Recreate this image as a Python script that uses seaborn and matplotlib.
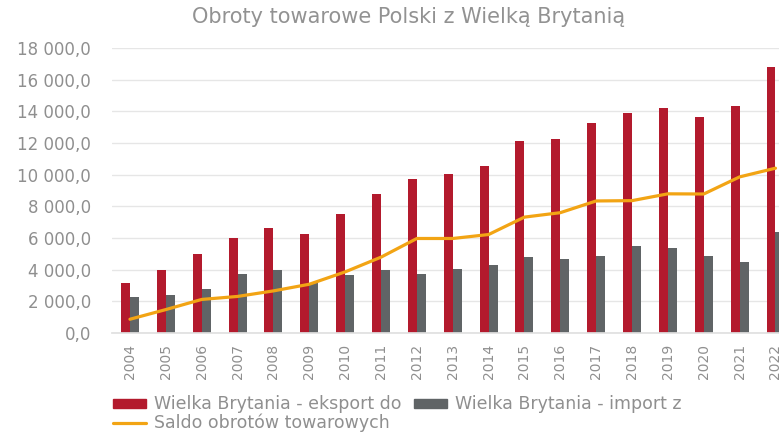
import pandas as pd
import matplotlib.pyplot as plt
import numpy as np
import seaborn as sns
from matplotlib.ticker import FuncFormatter
from matplotlib.patches import Patch
from matplotlib.lines import Line2D

years = [str(y) for y in range(2004, 2023)]
eksport = [3190, 3950, 4960, 6010, 6650, 6270, 7530, 8800, 9720, 10040,
           10540, 12110, 12280, 13250, 13880, 14190, 13670, 14340, 16780]
imports = [2300, 2430, 2810, 3700, 3990, 3150, 3650, 3990, 3730, 4070,
           4320, 4780, 4650, 4880, 5520, 5390, 4880, 4500, 6360]
saldo = [870, 1480, 2120, 2310, 2660, 3080, 3860, 4790, 5970, 5970,
         6220, 7320, 7600, 8340, 8360, 8790, 8780, 9860, 10410]

lab_exp = "Wielka Brytania - eksport do"
lab_imp = "Wielka Brytania - import z"
lab_sal = "Saldo obrotów towarowych"

c_exp = "#B31A2D"
c_imp = "#606466"
c_sal = "#F2A414"
txt = "#8F8F8F"

sns.set_theme(style="white")
plt.rcParams['font.family'] = ['DejaVu Sans']

df = pd.DataFrame({"rok": years * 2,
                   "wartosc": eksport + imports,
                   "seria": [lab_exp] * len(years) + [lab_imp] * len(years)})

fig = plt.figure(figsize=(7.79, 4.36), dpi=100)
ax = fig.add_axes([0.1438, 0.2362, 0.8747, 0.6537])

sns.barplot(data=df, x="rok", y="wartosc", hue="seria", palette=[c_exp, c_imp],
            width=0.5, gap=0, saturation=1, linewidth=0, ax=ax, legend=False)
ax.plot(np.arange(len(years)), saldo, color=c_sal, lw=2.3, solid_capstyle="round")

ax.set_xlim(-0.5, len(years) - 0.5)
ax.set_ylim(0, 18000)
ax.set_yticks(np.arange(0, 18001, 2000))
ax.yaxis.set_major_formatter(FuncFormatter(
    lambda v, p: "{:,.1f}".format(v).replace(",", " ").replace(".", ",")))
ax.grid(axis="y", color="#E6E6E6", lw=1)
ax.set_axisbelow(True)
for s in ["top", "right", "left"]:
    ax.spines[s].set_visible(False)
ax.spines["bottom"].set_color("#E0E0E0")
ax.set_xlabel("")
ax.set_ylabel("")
ax.tick_params(axis="y", length=0, pad=15, labelsize=12, labelcolor=txt)
ax.tick_params(axis="x", length=0, pad=8, labelsize=10, labelcolor=txt, rotation=90)

fig.text(0.525, 0.96, "Obroty towarowe Polski z Wielką Brytanią", ha="center", va="center",
         fontsize=15, color="#929292")

handles = [Patch(color=c_exp, label=lab_exp), Line2D([], [], color=c_sal, lw=2.3, label=lab_sal),
           Patch(color=c_imp, label=lab_imp)]
fig.legend(handles=handles, ncol=2, loc="upper left", bbox_to_anchor=(0.145, 0.093),
           frameon=False, fontsize=12.5, labelcolor=txt, handlelength=1.9, handleheight=0.45,
           handletextpad=0.45, columnspacing=0.75, labelspacing=0.0, borderaxespad=0,
           borderpad=0)

fig.savefig("out.png", dpi=100)
